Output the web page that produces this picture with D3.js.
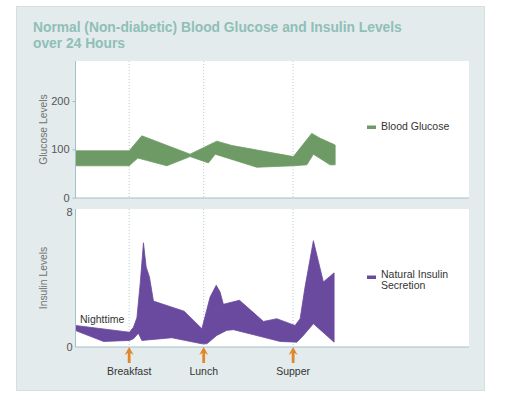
<!DOCTYPE html>
<html>
<head>
<meta charset="utf-8">
<script src="https://cdn.jsdelivr.net/npm/d3@7"></script>
<style>
    body { margin: 0; background: #fff; font-family: "Liberation Sans", Arial, sans-serif; }
</style>
</head>
<body>
<div id="chart"></div>
<script>

// hour of day, value
var glucoseHighHours = [3.4, 7.0, 7.85, 11.09, 12.88, 13.89, 18.02, 19.25, 19.81, 20.82]
var glucoseHigh      = [97, 97, 128, 90, 117, 108, 85, 133, 123, 109]
var glucoseLowHours  = [3.4, 7.0, 7.58, 9.53, 11.09, 12.32, 12.77, 15.56, 18.02, 18.92, 19.36, 20.48, 20.82]
var glucoseLow       = [66, 66, 82, 66, 85, 72, 90, 63, 66, 68, 90, 68, 68]

var insulinHighHours = [3.4, 7.02, 7.29, 7.52, 7.74, 7.96, 8.14, 8.36, 8.63, 10.69, 11.88, 12.43, 12.84, 13.10, 13.32, 14.40, 16.01, 16.91, 17.80, 18.13, 18.47, 18.80, 19.36, 20.03, 20.75]
var insulinHigh      = [1.25, 0.85, 1.15, 1.71, 3.74, 6.17, 4.73, 4.14, 2.7, 2.1, 1.06, 2.94, 3.64, 3.24, 2.51, 2.75, 1.49, 1.65, 1.36, 1.25, 1.65, 3.54, 6.29, 3.84, 4.38]
var insulinLowHours  = [3.4, 5.28, 7.02, 7.29, 7.62, 7.85, 9.86, 11.88, 12.21, 12.88, 13.55, 14.0, 17.13, 18.25, 18.69, 19.36, 20.75]
var insulinLow       = [0.95, 0.3, 0.36, 0.46, 0.79, 0.36, 0.52, 0.16, 0.16, 0.66, 0.96, 1.0, 0.3, 0.26, 0.66, 1.36, 0.26]

var meals = ["Breakfast", "Lunch", "Supper"]
var mealHours = [7, 12, 18]
var glucoseTicks = [0, 100, 200]
var insulinTicks = [0, 8]
var titleLines = ["Normal (Non-diabetic) Blood Glucose and Insulin Levels", "over 24 Hours"]

var green = "#6e9a65", purple = "#6a4a9f", axisColor = "#a3c0c4"

var svg = d3.select("#chart").append("svg")
    .attr("width", 530)
    .attr("height", 399)

svg.append("rect")
    .attr("x", 16.5).attr("y", 6.5)
    .attr("width", 468).attr("height", 384)
    .attr("fill", "#e3ebec")
    .attr("stroke", "#d8dedd")

svg.selectAll(".title")
    .data(titleLines)
    .enter()
    .append("text")
    .attr("x", 33)
    .attr("y", function(d, i) { return 32 + i * 16 })
    .attr("fill", "#8fbfb7")
    .attr("font-size", "13.8px")
    .attr("font-weight", "bold")
    .text(function(d) { return d })

var x = d3.scaleLinear().domain([3.4, 29.8]).range([75.5, 469])
var yG = d3.scaleLinear().domain([0, 200]).range([197.7, 101])
var yI = d3.scaleLinear().domain([0, 8]).range([346.5, 212])

function band(hiH, hi, loH, lo, y) {
    var pts = hiH.map(function(h, i) { return [h, hi[i]] })
    var low = loH.map(function(h, i) { return [h, lo[i]] }).reverse()
    return d3.line()
        .x(function(d) { return x(d[0]) })
        .y(function(d) { return y(d[1]) })(pts.concat(low)) + "Z"
}

function panel(top, bottom, y, ticks, tickSize, label, hiH, hi, loH, lo, color) {
    svg.append("rect")
        .attr("x", 75.5).attr("y", top)
        .attr("width", 469 - 75.5).attr("height", bottom - top)
        .attr("fill", "#fff")

    svg.selectAll(null)
        .data(mealHours)
        .enter()
        .append("line")
        .attr("x1", function(d) { return x(d) })
        .attr("x2", function(d) { return x(d) })
        .attr("y1", top).attr("y2", bottom)
        .attr("stroke", "#b5cad0")
        .attr("stroke-dasharray", "1,2")

    svg.append("path")
        .attr("d", band(hiH, hi, loH, lo, y))
        .attr("fill", color)
        .attr("stroke", color)
        .attr("stroke-width", 0.8)
        .attr("stroke-linejoin", "round")

    var ax = svg.append("g")
        .attr("transform", "translate(75.5,0)")
        .call(d3.axisLeft(y).tickValues(ticks).tickSize(tickSize).tickSizeOuter(0).tickPadding(3))
    ax.select(".domain").attr("stroke", axisColor).attr("d", "M0," + top + "V" + bottom)
    ax.selectAll(".tick line").attr("stroke", axisColor)
    ax.selectAll(".tick text")
        .attr("fill", "#555")
        .attr("font-size", "11px")
        .attr("font-family", "Liberation Sans, Arial, sans-serif")

    svg.append("line")
        .attr("x1", 75.5).attr("x2", 469)
        .attr("y1", bottom).attr("y2", bottom)
        .attr("stroke", axisColor)

    svg.append("text")
        .attr("transform", "translate(47," + ((top + bottom) / 2) + ") rotate(-90)")
        .attr("text-anchor", "middle")
        .attr("fill", "#727272")
        .attr("font-size", "10.3px")
        .text(label)
}

panel(61, 198, yG, glucoseTicks, 3, "Glucose Levels", glucoseHighHours, glucoseHigh, glucoseLowHours, glucoseLow, green)
panel(209, 347, yI, insulinTicks, 0, "Insulin Levels", insulinHighHours, insulinHigh, insulinLowHours, insulinLow, purple)

// legends
svg.append("rect").attr("x", 367).attr("y", 125.5).attr("width", 9).attr("height", 3.5).attr("fill", green)
svg.append("text").attr("x", 381).attr("y", 130).attr("font-size", "10.5px").attr("fill", "#333").text("Blood Glucose")
svg.append("rect").attr("x", 367).attr("y", 275.5).attr("width", 9).attr("height", 3.5).attr("fill", purple)
svg.selectAll(null)
    .data(["Natural Insulin", "Secretion"])
    .enter()
    .append("text")
    .attr("x", 381)
    .attr("y", function(d, i) { return 278 + i * 11 })
    .attr("font-size", "10.5px")
    .attr("fill", "#333")
    .text(function(d) { return d })

svg.append("text").attr("x", 80).attr("y", 323).attr("font-size", "10.5px").attr("fill", "#333").text("Nighttime")

// meal arrows
var arrow = "M0,0 L4.5,8 L1.4,6 L1.4,16 L-1.4,16 L-1.4,6 L-4.5,8 Z"
svg.selectAll(".arrow")
    .data(mealHours)
    .enter()
    .append("path")
    .attr("d", arrow)
    .attr("transform", function(d) { return "translate(" + x(d) + ",347)" })
    .attr("fill", "#e0862b")

svg.selectAll(".meal")
    .data(meals)
    .enter()
    .append("text")
    .attr("x", function(d, i) { return x(mealHours[i]) })
    .attr("y", 375)
    .attr("text-anchor", "middle")
    .attr("font-size", "10.5px")
    .attr("fill", "#333")
    .text(function(d) { return d })

</script>
</body>
</html>
